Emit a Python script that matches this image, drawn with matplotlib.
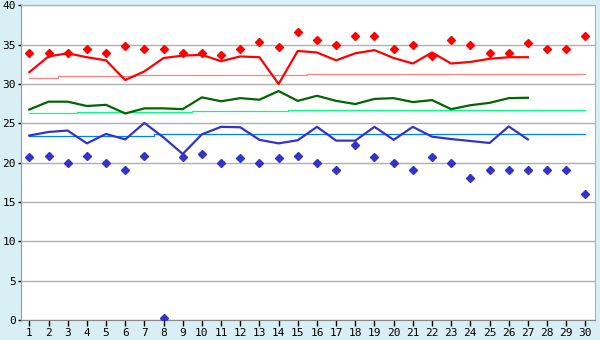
import matplotlib
matplotlib.use("Agg")
import matplotlib.pyplot as plt

# dias del mes
dias = list(range(1, 31))
dias_linea = list(range(1, 28))

# valores maximos (puntos rojos) y su promedio movil
rojo_puntos = [34.0, 33.9, 34.0, 34.5, 34.0, 34.8, 34.4, 34.5, 34.0, 34.0,
               33.7, 34.45, 35.3, 34.65, 36.55, 35.55, 34.95, 36.1, 36.1, 34.5,
               34.95, 33.6, 35.6, 34.95, 33.9, 34.0, 35.2, 34.5, 34.5, 36.1]
rojo_linea = [31.5, 33.5, 33.9, 33.4, 33.0, 30.5, 31.6, 33.3, 33.6, 33.7,
              32.9, 33.5, 33.4, 30.0, 34.2, 34.0, 33.0, 33.9, 34.3, 33.3,
              32.6, 34.0, 32.6, 32.8, 33.2, 33.4, 33.4]
rojo_ref = [30.8, 30.8, 31.0, 31.0, 31.0, 31.0, 31.1, 31.1, 31.1, 31.1,
            31.1, 31.1, 31.1, 31.1, 31.1, 31.25, 31.25, 31.25, 31.25, 31.25,
            31.25, 31.25, 31.25, 31.25, 31.25, 31.25, 31.25, 31.25, 31.25, 31.25]

# valores medios
verde_linea = [26.75, 27.75, 27.75, 27.2, 27.35, 26.25, 26.9, 26.9, 26.8, 28.3,
               27.8, 28.2, 28.0, 29.1, 27.85, 28.5, 27.85, 27.45, 28.1, 28.2,
               27.7, 27.95, 26.8, 27.3, 27.6, 28.2, 28.25]
verde_ref = [26.3, 26.3, 26.3, 26.4, 26.4, 26.4, 26.4, 26.4, 26.4, 26.55,
             26.55, 26.55, 26.55, 26.55, 26.67, 26.67, 26.67, 26.67, 26.67, 26.67,
             26.67, 26.67, 26.67, 26.67, 26.67, 26.67, 26.67, 26.67, 26.67, 26.67]

# valores minimos (puntos azules)
azul_puntos = [20.7, 20.85, 20.0, 20.85, 20.0, 19.05, 20.85, 0.2, 20.7, 21.1,
               20.0, 20.55, 20.0, 20.6, 20.85, 20.0, 19.1, 22.3, 20.7, 20.0,
               19.05, 20.7, 20.0, 18.0, 19.05, 19.05, 19.1, 19.05, 19.05, 16.0]
azul_linea = [23.45, 23.9, 24.08, 22.45, 23.65, 22.95, 25.05, 23.2, 21.1, 23.6,
              24.55, 24.5, 22.9, 22.45, 22.85, 24.55, 22.8, 22.8, 24.55, 22.9,
              24.55, 23.3, 23.0, 22.75, 22.5, 24.6, 22.95]
azul_ref = [23.33, 23.45, 23.45, 23.45, 23.45, 23.45, 23.45, 23.58, 23.58, 23.58,
            23.58, 23.58, 23.58, 23.58, 23.58, 23.58, 23.58, 23.58, 23.58, 23.58,
            23.58, 23.58, 23.58, 23.58, 23.58, 23.58, 23.58, 23.58, 23.58, 23.58]

fondo = "#d9eff6"
gris = "#b0b0b0"

fig = plt.figure(figsize=(6, 3.4), dpi=100, facecolor=fondo)
ax = fig.add_axes([20.7 / 600, 20 / 340, (595 - 20.7) / 600, 314.7 / 340])
ax.set_facecolor("white")

# lineas de referencia (escalonadas)
ax.plot(dias, rojo_ref, color="#ff8080", lw=0.9, drawstyle="steps-mid", zorder=2)
ax.plot(dias, verde_ref, color="#00ff80", lw=0.9, drawstyle="steps-mid", zorder=2)
ax.plot(dias, azul_ref, color="#0080ff", lw=0.9, drawstyle="steps-mid", zorder=2)

# lineas principales
ax.plot(dias_linea, rojo_linea, color="#ff0000", lw=1.6, zorder=3)
ax.plot(dias_linea, verde_linea, color="#006600", lw=1.6, zorder=3)
ax.plot(dias_linea, azul_linea, color="#3333cc", lw=1.6, zorder=3)

# puntos
ax.plot(dias, rojo_puntos, ls="none", marker="D", ms=4, color="#ff0000", zorder=4)
ax.plot(dias, azul_puntos, ls="none", marker="D", ms=4, color="#3333cc", zorder=4)

ax.set_xlim(0.55, 30.5)
ax.set_ylim(0, 40)
ax.set_xticks(dias)
ax.set_yticks(range(0, 41, 5))
ax.yaxis.grid(True, color=gris, lw=1)
ax.set_axisbelow(True)

for lado in ["top", "right"]:
    ax.spines[lado].set_color(gris)
ax.spines["left"].set_color("#999999")
ax.spines["bottom"].set_color("#888888")

ax.tick_params(axis="x", length=4, width=1, color="black", pad=2,
               labelsize=8, labelfontfamily="DejaVu Sans Mono")
ax.tick_params(axis="y", length=2.5, width=1, color="black", pad=1,
               labelsize=8, labelfontfamily="DejaVu Sans Mono")

fig.savefig("out.png", dpi=100, facecolor=fondo)
